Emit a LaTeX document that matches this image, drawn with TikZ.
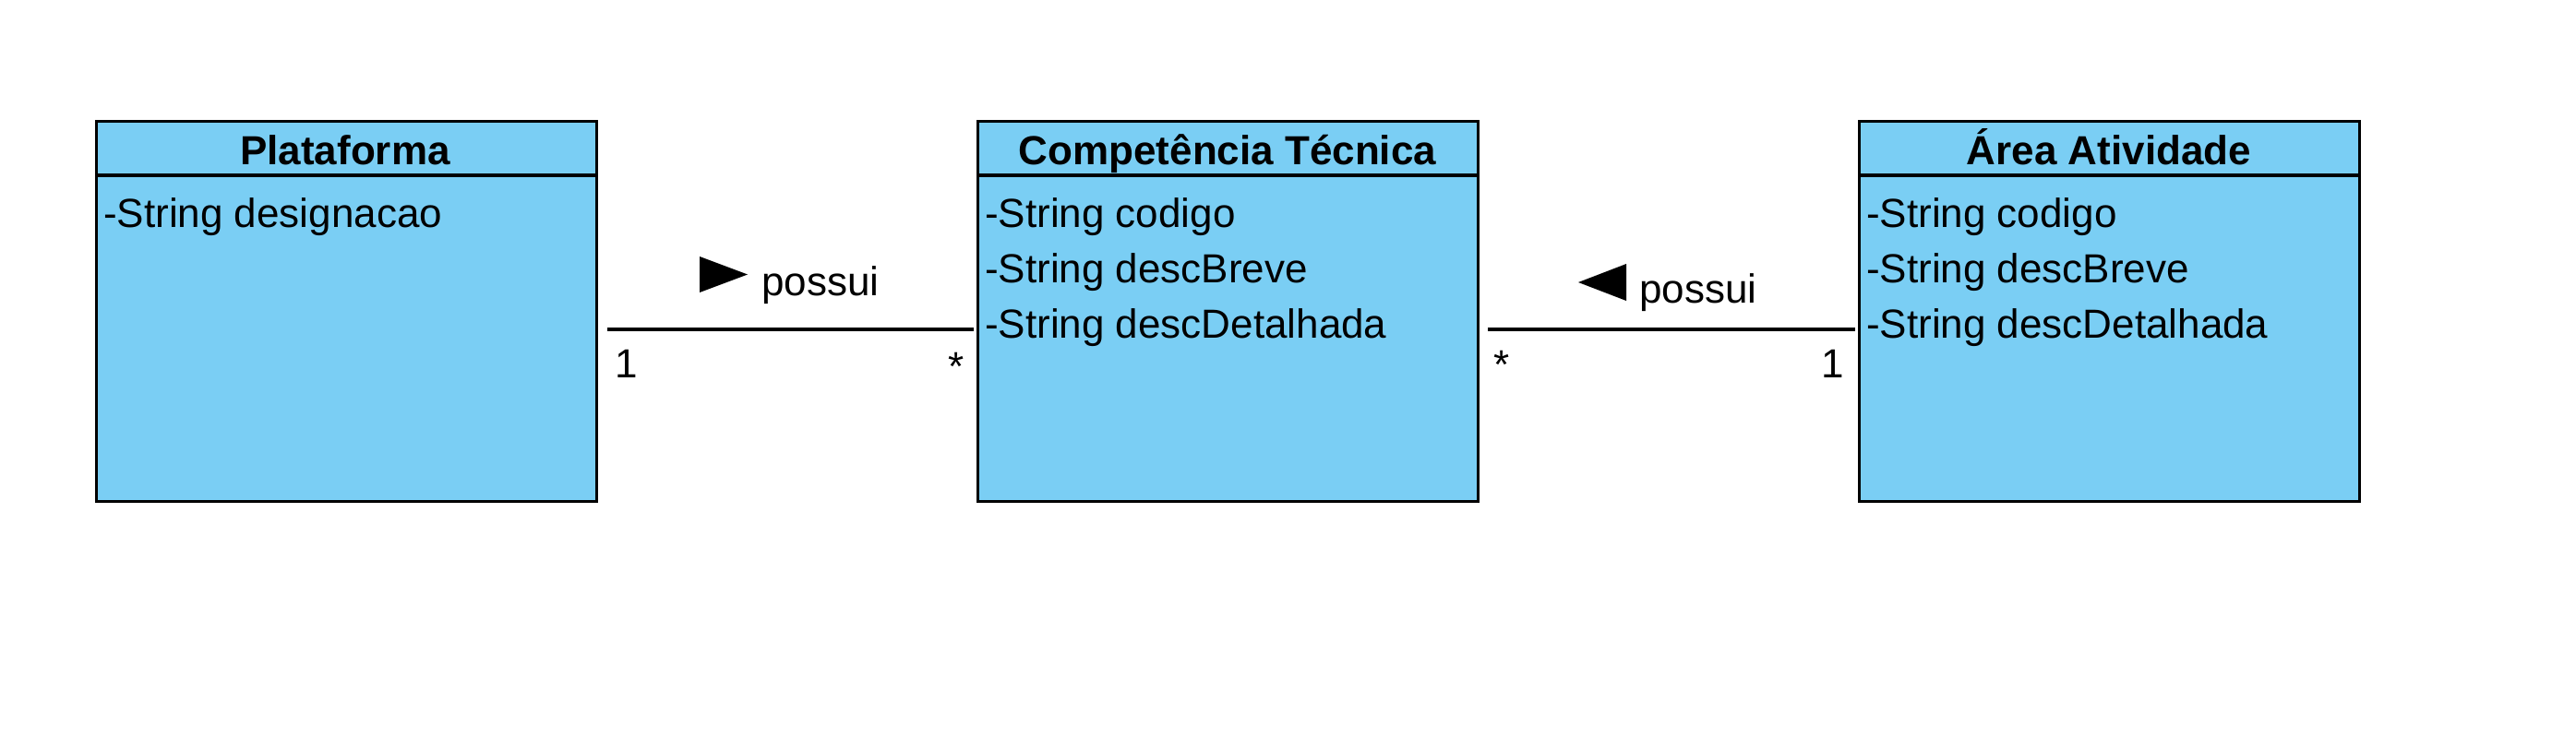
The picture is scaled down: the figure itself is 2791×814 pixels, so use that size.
\documentclass[tikz,border=0pt]{standalone}
\usepackage{fontspec}
\setmainfont{Liberation Sans}
\definecolor{classfill}{RGB}{122,206,244}
\tikzset{
  classbox/.style={draw=black, fill=classfill, line width=1pt, minimum width=162.6pt, minimum height=123.6pt, inner sep=0pt, anchor=north west},
  divider/.style={draw=black, line width=1pt},
  classtitle/.style={font=\fontsize{13.2pt}{16pt}\selectfont\bfseries, inner sep=0pt, anchor=base},
  attr/.style={font=\fontsize{13.2pt}{16pt}\selectfont, inner sep=0pt, anchor=base west},
  assoc/.style={draw=black, line width=1pt},
  lbl/.style={font=\fontsize{13.2pt}{16pt}\selectfont, inner sep=0pt, anchor=base west},
  dirtri/.style={fill=black}
}
\begin{document}
\begin{tikzpicture}[x=0.3pt, y=-0.3pt]
\useasboundingbox (0,0) rectangle (2791,814);
% class boxes
\node[classbox] (P) at (103,130) {};
\node[classbox] (C) at (1058,130) {};
\node[classbox] (A) at (2013,130) {};
\coordinate (hd) at (0,190);
\draw[divider] (P.west |- hd) -- (P.east |- hd);
\draw[divider] (C.west |- hd) -- (C.east |- hd);
\draw[divider] (A.west |- hd) -- (A.east |- hd);
% titles
\node[classtitle] (Pt) at (374,178) {Plataforma};
\node[classtitle] (Ct) at (1330,178) {Competência Técnica};
\node[classtitle] (At) at (2285,178) {Área Atividade};
% attributes
\node[attr] (Pa1) at (111.5,246.7) {-String designacao};
\node[attr] (Ca1) at (1066.5,246.7) {-String codigo};
\node[attr] (Ca2) at (1066.5,306.7) {-String descBreve};
\node[attr] (Ca3) at (1066.5,366.7) {-String descDetalhada};
\node[attr] (Aa1) at (2021.5,246.7) {-String codigo};
\node[attr] (Aa2) at (2021.5,306.7) {-String descBreve};
\node[attr] (Aa3) at (2021.5,366.7) {-String descDetalhada};
% associations
\coordinate (ly) at (0,357);
\draw[assoc, shorten <=3pt, shorten >=0.9pt] (P.east |- ly) -- (C.west |- ly);
\draw[assoc, shorten <=2.7pt, shorten >=0.9pt] (C.east |- ly) -- (A.west |- ly);
% direction triangles and labels
\fill[dirtri] (758,278) -- (758,317) -- (810,297.5) -- cycle;
\node[lbl] (r1) at (824.5,320) {possui};
\fill[dirtri] (1762,286) -- (1762,326) -- (1710,306) -- cycle;
\node[lbl] (r2) at (1775.4,328) {possui};
% multiplicities
\node[lbl] (m1) at (666,409) {1};
\node[lbl] (m2) at (1027,412) {*};
\node[lbl] (m3) at (1618,410) {*};
\node[lbl] (m4) at (1973,409) {1};
\end{tikzpicture}
\end{document}
